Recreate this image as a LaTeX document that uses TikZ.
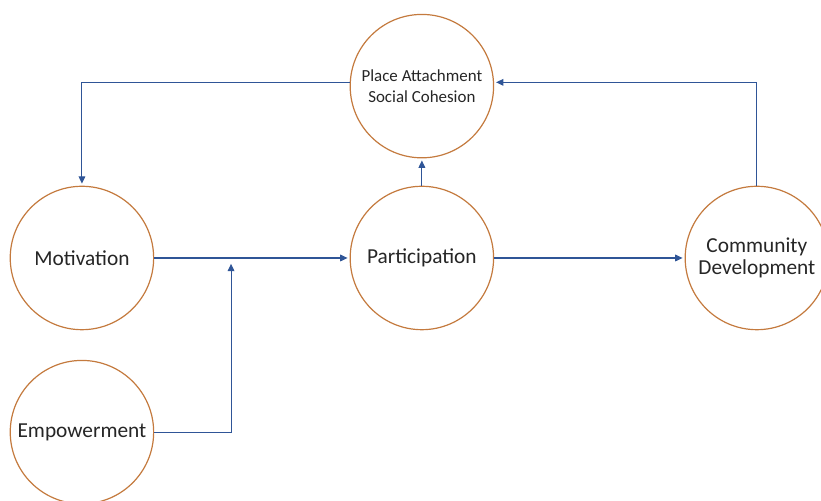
\documentclass[tikz,border=0pt]{standalone}
\usepackage{fontspec}
\setmainfont{Carlito}
\usetikzlibrary{arrows.meta,calc}
\definecolor{ringorange}{RGB}{196,122,62}
\definecolor{linkblue}{RGB}{47,85,151}
\begin{document}
\begin{tikzpicture}[
    node distance=4.5cm,
    circ/.style={circle, draw=ringorange, line width=0.9pt, fill=white, minimum size=3.78cm, inner sep=0pt, align=center, text=black!85, font=\fontsize{16}{17}\selectfont},
    small/.style={font=\fontsize{12.7}{15.5}\selectfont},
    arrow/.style={-{Triangle[length=5.5pt,width=5pt]}, draw=linkblue, line width=0.8pt, shorten >=1.5pt}
]
    \useasboundingbox ([xshift=-2.16cm, yshift=-6.38cm]0,0) rectangle ++(21.64cm,13.18cm);

    \node[circ] (motiv) at (0,0) {Motivation};
    \node[circ, right of=motiv, xshift=4.46cm] (part) {Participation};
    \node[circ, right of=part, xshift=4.33cm] (comm) {Community\\Development};
    \node[circ, small, above of=part, yshift=0.03cm] (place) {Place Attachment\\Social Cohesion};
    \node[circ, below of=motiv, yshift=-0.09cm] (empow) {Empowerment};
    \coordinate[right of=motiv, xshift=-0.57cm] (join);

    \draw[arrow] (place.177) -| (motiv.north);
    \draw[arrow] (comm.north) |- (place.3);
    \draw[arrow] (part.north) -- (place.south);
    \draw[arrow] (motiv.east) -- (part.west);
    \draw[arrow] (part.east) -- (comm.west);
    \draw[arrow] (empow.east) -| ([yshift=-0.1cm]join);
\end{tikzpicture}
\end{document}
